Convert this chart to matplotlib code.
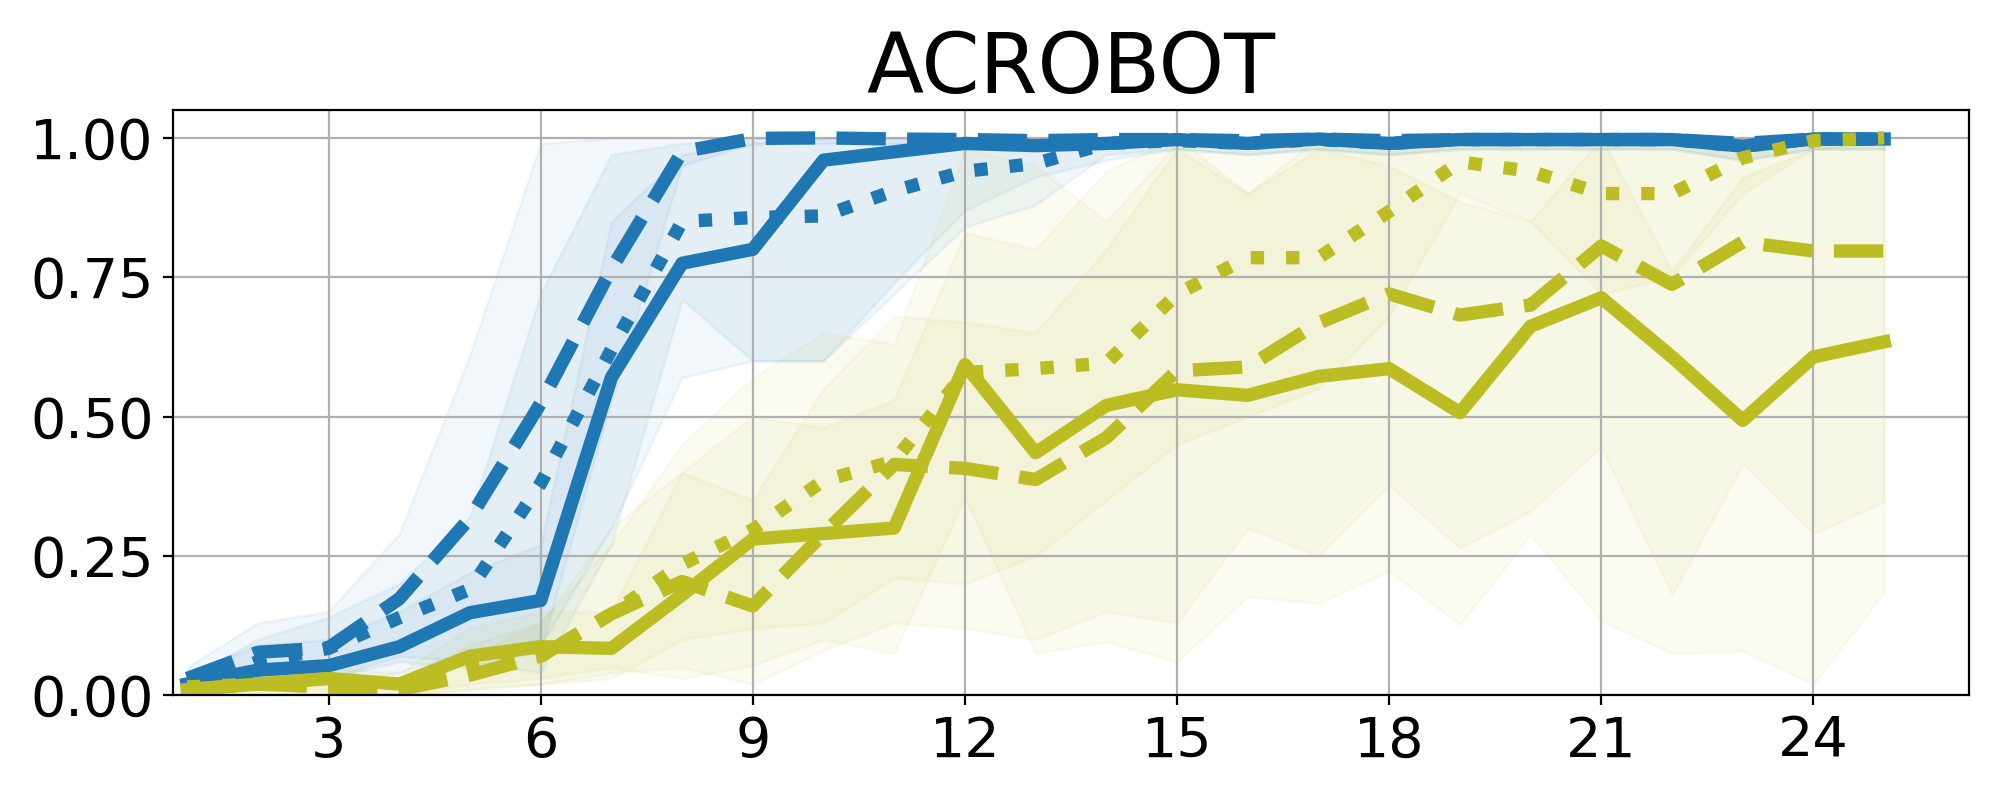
import matplotlib
matplotlib.use("Agg")
import matplotlib.pyplot as plt

episodes = list(range(1, 26))

# blue runs
blue_solid = [0.02, 0.045, 0.053, 0.087, 0.148, 0.17, 0.57, 0.775, 0.80, 0.96, 0.975, 0.99, 0.986,
              0.99, 0.997, 0.99, 0.998, 0.99, 0.997, 0.997, 0.997, 0.997, 0.985, 0.998, 0.998]
blue_solid_lo = [0.0, 0.01, 0.02, 0.04, 0.08, 0.09, 0.30, 0.57, 0.60, 0.60, 0.74, 0.87, 0.93,
                 0.96, 0.98, 0.97, 0.98, 0.97, 0.98, 0.98, 0.98, 0.98, 0.96, 0.98, 0.98]
blue_solid_hi = [0.04, 0.09, 0.10, 0.15, 0.22, 0.27, 0.85, 0.97, 0.99, 1.0, 1.0, 1.0, 1.0,
                 1.0, 1.0, 1.0, 1.0, 1.0, 1.0, 1.0, 1.0, 1.0, 1.0, 1.0, 1.0]

blue_dashed = [0.03, 0.077, 0.085, 0.173, 0.318, 0.524, 0.765, 0.975, 0.999, 1.0, 0.998, 0.997, 0.995,
               0.997, 0.997, 0.995, 0.998, 0.995, 0.997, 0.997, 0.997, 0.997, 0.99, 0.998, 0.998]
blue_dashed_lo = [0.01, 0.03, 0.03, 0.06, 0.05, 0.08, 0.53, 0.95, 0.99, 0.99, 0.99, 0.99, 0.99,
                  0.99, 0.99, 0.99, 0.99, 0.99, 0.99, 0.99, 0.99, 0.99, 0.98, 0.99, 0.99]
blue_dashed_hi = [0.05, 0.13, 0.15, 0.29, 0.61, 0.99, 1.0, 1.0, 1.0, 1.0, 1.0, 1.0, 1.0,
                  1.0, 1.0, 1.0, 1.0, 1.0, 1.0, 1.0, 1.0, 1.0, 1.0, 1.0, 1.0]

blue_dotted = [0.015, 0.06, 0.084, 0.139, 0.19, 0.38, 0.62, 0.85, 0.857, 0.86, 0.905, 0.94, 0.954,
               0.99, 0.995, 0.99, 0.997, 0.99, 0.997, 0.997, 0.997, 0.997, 0.985, 0.998, 0.998]
blue_dotted_lo = [0.0, 0.02, 0.03, 0.07, 0.06, 0.04, 0.27, 0.71, 0.60, 0.60, 0.72, 0.84, 0.88,
                  0.97, 0.98, 0.97, 0.98, 0.97, 0.98, 0.98, 0.98, 0.98, 0.96, 0.98, 0.98]
blue_dotted_hi = [0.03, 0.10, 0.14, 0.20, 0.32, 0.72, 0.97, 0.99, 1.0, 1.0, 1.0, 1.0, 1.0,
                  1.0, 1.0, 1.0, 1.0, 1.0, 1.0, 1.0, 1.0, 1.0, 1.0, 1.0, 1.0]

# olive runs
olive_solid = [0.01, 0.02, 0.03, 0.02, 0.07, 0.087, 0.084, 0.18, 0.28, 0.29, 0.30, 0.593, 0.435,
               0.52, 0.548, 0.538, 0.572, 0.586, 0.507, 0.662, 0.713, 0.607, 0.493, 0.607, 0.634]
olive_solid_lo = [0.0, 0.01, 0.01, 0.0, 0.02, 0.03, 0.05, 0.03, 0.054, 0.10, 0.075, 0.356, 0.075,
                  0.096, 0.06, 0.177, 0.165, 0.223, 0.127, 0.288, 0.134, 0.075, 0.079, 0.02, 0.185]
olive_solid_hi = [0.02, 0.04, 0.05, 0.04, 0.12, 0.15, 0.15, 0.40, 0.50, 0.48, 0.53, 0.83, 0.80,
                  0.94, 1.0, 0.90, 0.98, 0.95, 0.885, 0.85, 1.0, 0.76, 0.93, 0.98, 1.0]

olive_dashed = [0.01, 0.02, 0.015, 0.01, 0.036, 0.07, 0.146, 0.204, 0.16, 0.29, 0.414, 0.407, 0.387,
                0.462, 0.582, 0.589, 0.668, 0.72, 0.682, 0.70, 0.806, 0.737, 0.813, 0.797, 0.797]
olive_dashed_lo = [0.0, 0.0, 0.0, 0.0, 0.01, 0.02, 0.04, 0.05, 0.02, 0.08, 0.13, 0.12, 0.10,
                   0.15, 0.13, 0.30, 0.25, 0.377, 0.264, 0.33, 0.446, 0.18, 0.415, 0.29, 0.347]
olive_dashed_hi = [0.02, 0.04, 0.03, 0.02, 0.07, 0.13, 0.30, 0.40, 0.35, 0.55, 0.68, 0.67, 0.65,
                   0.80, 0.98, 0.90, 1.0, 1.0, 1.0, 1.0, 1.0, 1.0, 1.0, 1.0, 1.0]

olive_dotted = [0.015, 0.02, 0.015, 0.01, 0.05, 0.07, 0.146, 0.235, 0.297, 0.385, 0.42, 0.579, 0.586,
                0.596, 0.72, 0.785, 0.785, 0.868, 0.957, 0.94, 0.90, 0.90, 0.964, 0.995, 1.0]
olive_dotted_lo = [0.0, 0.0, 0.0, 0.0, 0.01, 0.02, 0.03, 0.10, 0.12, 0.13, 0.21, 0.20, 0.25,
                   0.35, 0.45, 0.50, 0.55, 0.68, 0.90, 0.85, 0.72, 0.75, 0.90, 0.98, 0.99]
olive_dotted_hi = [0.03, 0.04, 0.03, 0.02, 0.09, 0.13, 0.27, 0.45, 0.57, 0.65, 0.63, 0.98, 0.95,
                   0.85, 0.99, 1.0, 1.0, 1.0, 1.0, 1.0, 1.0, 1.0, 1.0, 1.0, 1.0]

runs = [
    (blue_solid, blue_solid_lo, blue_solid_hi, "tab:blue", "-"),
    (blue_dashed, blue_dashed_lo, blue_dashed_hi, "tab:blue", "--"),
    (blue_dotted, blue_dotted_lo, blue_dotted_hi, "tab:blue", ":"),
    (olive_solid, olive_solid_lo, olive_solid_hi, "tab:olive", "-"),
    (olive_dashed, olive_dashed_lo, olive_dashed_hi, "tab:olive", "--"),
    (olive_dotted, olive_dotted_lo, olive_dotted_hi, "tab:olive", ":"),
]

plt.figure(figsize=(10, 4), dpi=200)
plt.axes([0.0865, 0.131, 0.898, 0.7315])

for mean, lo, hi, color, style in runs:
    plt.fill_between(episodes, lo, hi, color=color, alpha=0.06)
for mean, lo, hi, color, style in runs:
    plt.plot(episodes, mean, color=color, linestyle=style, linewidth=4.8)

plt.title("ACROBOT", fontsize=30)
plt.xticks(range(3, 25, 3), fontsize=20)
plt.yticks([0, 0.25, 0.5, 0.75, 1.0], ["0.00", "0.25", "0.50", "0.75", "1.00"], fontsize=20)
plt.xlim(0.8, 26.2)
plt.ylim(0, 1.05)
plt.grid()

plt.savefig("out.png", dpi=200)
